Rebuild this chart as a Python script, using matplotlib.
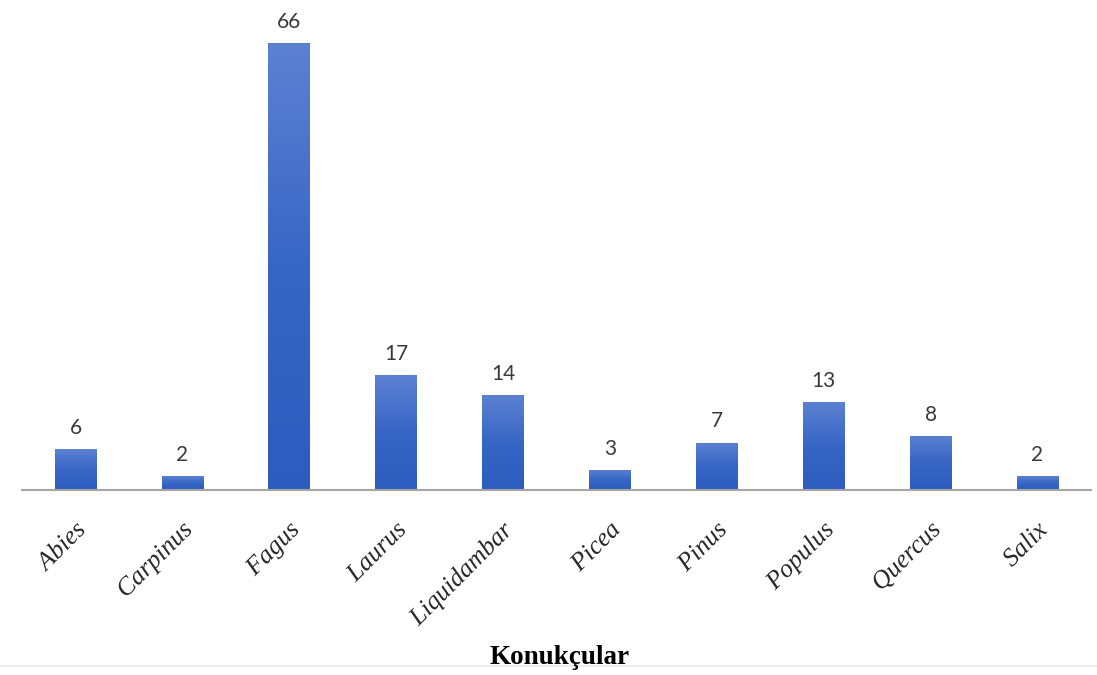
import numpy as np
import matplotlib
matplotlib.use("Agg")
import matplotlib.pyplot as plt
from matplotlib.colors import LinearSegmentedColormap
from matplotlib.font_manager import FontProperties, findfont
from matplotlib.textpath import TextPath
from matplotlib.patches import PathPatch
from matplotlib.transforms import Affine2D, IdentityTransform

hosts = ["Abies", "Carpinus", "Fagus", "Laurus", "Liquidambar",
         "Picea", "Pinus", "Populus", "Quercus", "Salix"]
counts = [6, 2, 66, 17, 14, 3, 7, 13, 8, 2]
xlabel = "Konukçular"

W, H, DPI = 1097, 675, 100
fig = plt.figure(figsize=(W / DPI, H / DPI), dpi=DPI)
ax = fig.add_axes([22 / W, 185 / H, 1069 / W, 474 / H])

x = np.arange(len(hosts))
bars = ax.bar(x, counts, width=0.39, color="none", edgecolor="none", zorder=2)

# vertical gradient fill for each bar, light at the top, darker at the base
cmap = LinearSegmentedColormap.from_list("barfill", ["#2d5cbf", "#3866c5", "#5c81d2"])
grad = np.linspace(0, 1, 256).reshape(-1, 1)
for b in bars:
    x0, w, h = b.get_x(), b.get_width(), b.get_height()
    im = ax.imshow(grad, cmap=cmap, aspect="auto", origin="lower",
                   extent=[x0, x0 + w, 0, h], zorder=2, interpolation="bicubic")
    im.set_clip_path(b)

for xi, v in zip(x, counts):
    ax.annotate(str(v), (xi, v), xytext=(0, 8), textcoords="offset points",
                ha="center", va="bottom", fontsize=15, color="#3a3a3a",
                family="Lato")

ax.set_xlim(-0.5, len(hosts) - 0.5)
ax.set_ylim(0, 70)
for s in ["top", "right", "left"]:
    ax.spines[s].set_visible(False)
ax.spines["bottom"].set_color("#a6a6a6")
ax.spines["bottom"].set_linewidth(1.5)
ax.set_yticks([])
ax.set_xticks(x)
ax.set_xticklabels([])
ax.tick_params(axis="x", length=0)

# rotated italic serif category names, drawn as slanted glyph outlines
ital_file = findfont(FontProperties(family="Liberation Serif", style="italic"))
if "liberationserif-italic" in ital_file.lower().replace(" ", ""):
    glyph_font, slant = FontProperties(fname=ital_file), 0.0
else:
    glyph_font, slant = FontProperties(family="Liberation Serif"), 14.0

size_pt = 18.5
px = size_pt * DPI / 72.0
angle = 45
to_disp = ax.transData
for xi, name in zip(x, hosts):
    tp = TextPath((0, 0), name, size=px, prop=glyph_font)
    ext = tp.get_extents()
    cx, ax_y = to_disp.transform((xi, 0))
    tr = (Affine2D().translate(-ext.x1, -0.3 * px)
          .skew_deg(slant, 0).rotate_deg(angle)
          .translate(cx + 5, ax_y - 36))
    patch = PathPatch(tp, transform=tr + IdentityTransform(), facecolor="#2b2b2b",
                      edgecolor="none", lw=0)
    fig.add_artist(patch)

fig.text(560 / W, 1 - 657 / H, xlabel, ha="center", va="center",
         fontsize=19.5, fontweight="bold", family="Liberation Serif", color="black")

# faint rule along the lower edge
fig.add_artist(plt.Line2D([0, 1], [1 - 666 / H] * 2, color="#eeeeee", lw=1.5))

fig.savefig("out.png", dpi=DPI, facecolor="white")
